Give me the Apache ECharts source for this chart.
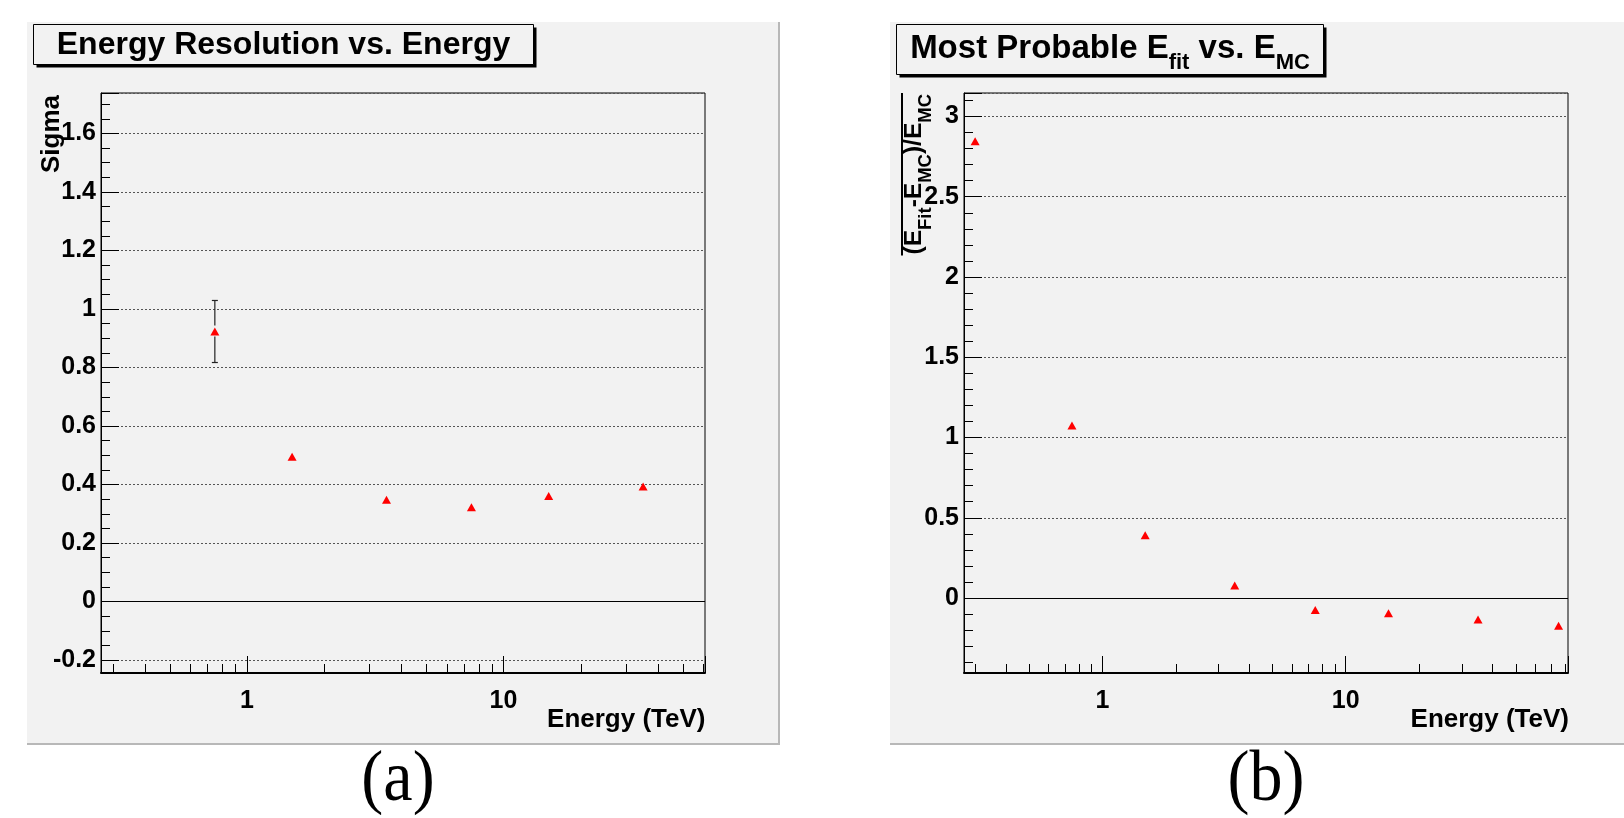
<!DOCTYPE html>
<html>
<head>
<meta charset="utf-8">
<script src="https://cdn.jsdelivr.net/npm/echarts@6.0.0/dist/echarts.min.js"></script>
<style>
html,body{margin:0;padding:0;background:#ffffff;}
#chart{width:1624px;height:818px;}
</style>
</head>
<body>
<div id="chart"></div>
<script>
// ---------------- data ----------------
const energyA   = [0.75, 1.5, 3.5, 7.5, 15, 35];
const sigmaA    = [0.923, 0.495, 0.348, 0.322, 0.361, 0.393];
const sigmaErrA = [0.106, 0, 0, 0, 0, 0];

const energyB = [0.3, 0.75, 1.5, 3.5, 7.5, 15, 35, 75];
const biasB   = [2.845, 1.075, 0.391, 0.078, -0.075, -0.095, -0.133, -0.172];

const yTicksA = [-0.2, 0, 0.2, 0.4, 0.6, 0.8, 1, 1.2, 1.4, 1.6];
const yTicksB = [0, 0.5, 1, 1.5, 2, 2.5, 3];
const xTickLabels = [1, 10];
const xMinorTicksA = [0.3, 0.4, 0.5, 0.6, 0.7, 0.8, 0.9, 2, 3, 4, 5, 6, 7, 8, 9, 20, 30, 40, 50, 60];
const xMinorTicksB = [0.3, 0.4, 0.5, 0.6, 0.7, 0.8, 0.9, 2, 3, 4, 5, 6, 7, 8, 9, 20, 30, 40, 50, 60, 70, 80];

const xRangeA = [0.27, 61];
const yRangeA = [-0.244, 1.738];
const xRangeB = [0.27, 82];
const yRangeB = [-0.467, 3.146];

// ---------------- helpers ----------------
const FONT = '"Liberation Sans", Arial, Helvetica, sans-serif';
const SERIF = '"Liberation Serif", "Times New Roman", serif';
const mctx = document.createElement('canvas').getContext('2d');
function tw(text, size, weight, fam) {
  mctx.font = (weight || 'bold') + ' ' + size + 'px ' + (fam || FONT);
  return mctx.measureText(text).width;
}
function textEl(str, x, baseline, size, opts) {
  opts = opts || {};
  const shift = opts.family === SERIF ? 0.3375 : 0.3465;
  const sy = opts.scaleY || 1;
  const al = opts.align || 'left';
  return {
    type: 'text', x: x, y: baseline - shift * size * sy, scaleY: sy, z: opts.z || 20, silent: true,
    style: {
      text: str, fill: '#000', fontSize: size, fontWeight: opts.weight || 'bold',
      fontFamily: opts.family || FONT, align: al, textAlign: al,
      verticalAlign: 'middle', textVerticalAlign: 'middle'
    }
  };
}
function rowEls(segs, startX, baseline) {
  let x = startX; const els = [];
  segs.forEach(function (s) {
    els.push(textEl(s.t, x, baseline + (s.dy || 0), s.s));
    x += tw(s.t, s.s);
  });
  return els;
}
function rowWidth(segs) {
  return segs.reduce(function (a, s) { return a + tw(s.t, s.s); }, 0);
}
function fmtY(ticks) {
  return function (v) {
    for (let i = 0; i < ticks.length; i++) if (Math.abs(v - ticks[i]) < 1e-6) return String(ticks[i]);
    return '';
  };
}
function fmtX(v) {
  for (let i = 0; i < xTickLabels.length; i++)
    if (Math.abs(v - xTickLabels[i]) < 1e-6 * xTickLabels[i]) return String(xTickLabels[i]);
  return '';
}

function xAxisCfg(gi, range) {
  return {
    type: 'log', logBase: 10, gridIndex: gi, min: range[0], max: range[1],
    axisLine: { show: true, onZero: false, lineStyle: { color: '#000', width: 2 } },
    axisTick: { show: true, inside: true, length: 17, lineStyle: { color: '#000', width: 1 } },
    minorTick: { show: false },
    splitLine: { show: false },
    axisLabel: {
      show: true, interval: 0, margin: 16, formatter: fmtX, color: '#000',
      fontFamily: FONT, fontWeight: 'bold', fontSize: 25
    }
  };
}
function yAxisCfg(gi, range, step, minorSplit, ticks, padTop) {
  return {
    type: 'value', gridIndex: gi, min: range[0], max: range[1],
    splitNumber: Math.round((range[1] - range[0]) / step),
    minInterval: step, maxInterval: step,
    axisLine: { show: true, onZero: false, lineStyle: { color: '#000', width: 1 } },
    axisTick: { show: true, inside: true, length: 18, lineStyle: { color: '#000', width: 1 } },
    minorTick: { show: true, splitNumber: minorSplit, length: 9, lineStyle: { color: '#000', width: 1 } },
    splitLine: { show: true, lineStyle: { color: '#555', width: 1, type: [2, 2] } },
    minorSplitLine: { show: false },
    axisLabel: {
      show: true, interval: 0, margin: 5, formatter: fmtY(ticks), color: '#000',
      fontFamily: FONT, fontWeight: 'bold', fontSize: 25, padding: [padTop, 0, 0, 0]
    }
  };
}
function pointSeries(gi, xs, ys) {
  return {
    type: 'scatter', xAxisIndex: gi, yAxisIndex: gi, z: 6,
    data: xs.map(function (x, i) { return [x, ys[i]]; }),
    symbol: 'triangle', symbolSize: [9, 8],
    itemStyle: { color: '#ff0000', opacity: 1 },
    markLine: {
      silent: true, symbol: 'none', animation: false, label: { show: false },
      lineStyle: { color: '#000', width: 1, type: 'solid' },
      data: [{ yAxis: 0 }]
    }
  };
}
function errSeries(gi, xs, ys, es) {
  return {
    type: 'custom', xAxisIndex: gi, yAxisIndex: gi, z: 5, silent: true,
    encode: { x: 0, y: 1 },
    data: xs.map(function (x, i) { return [x, ys[i], es[i]]; }),
    renderItem: function (p, api) {
      const x = api.value(0), y = api.value(1), e = api.value(2);
      if (!(e > 0)) return { type: 'group', children: [] };
      const c = api.coord([x, y]);
      const t = api.coord([x, y + e]);
      const b = api.coord([x, y - e]);
      const st = { stroke: '#222', lineWidth: 1.2 };
      return {
        type: 'group', children: [
          { type: 'line', shape: { x1: c[0], y1: t[1], x2: c[0], y2: c[1] - 6 }, style: st },
          { type: 'line', shape: { x1: c[0], y1: c[1] + 5, x2: c[0], y2: b[1] }, style: st },
          { type: 'line', shape: { x1: c[0] - 3, y1: t[1], x2: c[0] + 3, y2: t[1] }, style: st },
          { type: 'line', shape: { x1: c[0] - 3, y1: b[1], x2: c[0] + 3, y2: b[1] }, style: st }
        ]
      };
    }
  };
}
function minorTickSeries(gi, ticks, yMin) {
  return {
    type: 'custom', xAxisIndex: gi, yAxisIndex: gi, z: 3, silent: true,
    encode: { x: 0, y: 1 },
    data: ticks.map(function (v) { return [v, yMin]; }),
    renderItem: function (p, api) {
      const c = api.coord([api.value(0), api.value(1)]);
      const xx = Math.round(c[0]) + 0.5;
      return { type: 'line', shape: { x1: xx, y1: c[1], x2: xx, y2: c[1] - 9 }, style: { stroke: '#000', lineWidth: 1 } };
    }
  };
}

// ---------------- graphic (pads, titles, axis titles) ----------------
const graphics = [];
// pads
graphics.push({ type: 'rect', z: -10, silent: true, shape: { x: 27, y: 22, width: 752, height: 722 }, style: { fill: '#f2f2f2' } });
graphics.push({ type: 'line', z: -9, silent: true, shape: { x1: 779, y1: 22, x2: 779, y2: 744 }, style: { stroke: '#b8b8b8', lineWidth: 2 } });
graphics.push({ type: 'line', z: -9, silent: true, shape: { x1: 27, y1: 744, x2: 780, y2: 744 }, style: { stroke: '#b8b8b8', lineWidth: 2 } });
graphics.push({ type: 'rect', z: -10, silent: true, shape: { x: 890, y: 22, width: 760, height: 722 }, style: { fill: '#f2f2f2' } });
graphics.push({ type: 'line', z: -9, silent: true, shape: { x1: 890, y1: 744, x2: 1624, y2: 744 }, style: { stroke: '#b8b8b8', lineWidth: 2 } });

// title boxes
function titleBox(x, y, w, h) {
  graphics.push({ type: 'rect', z: 15, silent: true, shape: { x: x + 3, y: y + 3, width: w, height: h }, style: { fill: '#000' } });
  graphics.push({ type: 'rect', z: 16, silent: true, shape: { x: x, y: y, width: w, height: h }, style: { fill: '#f2f2f2', stroke: '#000', lineWidth: 1 } });
}
titleBox(33.5, 24.5, 500, 40);
titleBox(896.5, 24.5, 427, 50);

const titleASegs = [{ t: 'Energy Resolution vs. Energy', s: 32 }];
const wA = rowWidth(titleASegs);
rowEls(titleASegs, 283.5 - wA / 2, 56).forEach(function (e) { graphics.push(e); });

const titleBSegs = [
  { t: 'Most Probable E', s: 33 }, { t: 'fit', s: 22, dy: 10 },
  { t: ' vs. E', s: 33 }, { t: 'MC', s: 22, dy: 10 }
];
const wB = rowWidth(titleBSegs);
rowEls(titleBSegs, 1110 - wB / 2, 60.5).forEach(function (e) { graphics.push(e); });

// x-axis titles
graphics.push(textEl('Energy (TeV)', 705.5, 728.5, 26, { align: 'right' }));
graphics.push(textEl('Energy (TeV)', 1569, 728.5, 26, { align: 'right' }));

// y-axis title (a)
graphics.push({
  type: 'group', x: 61, y: 95, rotation: Math.PI / 2,
  children: [textEl('Sigma', 0, 0, 26, { align: 'right' })]
});
// y-axis title (b)
const yTitleBSegs = [
  { t: '(', s: 24.5 }, { t: 'E', s: 24.5 }, { t: 'Fit', s: 18.5, dy: 9 }, { t: '-', s: 24.5 },
  { t: 'E', s: 24.5 }, { t: 'MC', s: 18.5, dy: 9 }, { t: ')', s: 24.5 }, { t: '/', s: 24.5 },
  { t: 'E', s: 24.5 }, { t: 'MC', s: 18.5, dy: 9 }
];
const wYB = rowWidth(yTitleBSegs);
const ybChildren = rowEls(yTitleBSegs, -wYB, 0);
ybChildren.push({ type: 'line', z: 20, silent: true, shape: { x1: -wYB - 1, y1: -21, x2: 1, y2: -21 }, style: { stroke: '#000', lineWidth: 2 } });
graphics.push({ type: 'group', x: 923, y: 94, rotation: Math.PI / 2, children: ybChildren });

// panel labels
graphics.push(textEl('(a)', 398, 805, 66, { align: 'center', weight: 'normal', family: SERIF, scaleY: 1.1 }));
graphics.push(textEl('(b)', 1266, 805, 66, { align: 'center', weight: 'normal', family: SERIF, scaleY: 1.1 }));

// ---------------- chart ----------------
const chart = echarts.init(document.getElementById('chart'), null, { renderer: 'canvas', width: 1624, height: 818 });
chart.setOption({
  animation: false,
  backgroundColor: '#ffffff',
  grid: [
    { left: 101, top: 93, width: 604, height: 580, show: true, borderColor: '#000', borderWidth: 1, backgroundColor: 'transparent', containLabel: false, outerBoundsMode: 'none' },
    { left: 964, top: 93, width: 604, height: 580, show: true, borderColor: '#000', borderWidth: 1, backgroundColor: 'transparent', containLabel: false, outerBoundsMode: 'none' }
  ],
  xAxis: [xAxisCfg(0, xRangeA), xAxisCfg(1, xRangeB)],
  yAxis: [
    yAxisCfg(0, yRangeA, 0.2, 4, yTicksA, 8),
    yAxisCfg(1, yRangeB, 0.5, 5, yTicksB, 6)
  ],
  series: [
    minorTickSeries(0, xMinorTicksA, yRangeA[0]),
    minorTickSeries(1, xMinorTicksB, yRangeB[0]),
    errSeries(0, energyA, sigmaA, sigmaErrA),
    pointSeries(0, energyA, sigmaA),
    pointSeries(1, energyB, biasB)
  ],
  graphic: { elements: graphics }
});
</script>
</body>
</html>
